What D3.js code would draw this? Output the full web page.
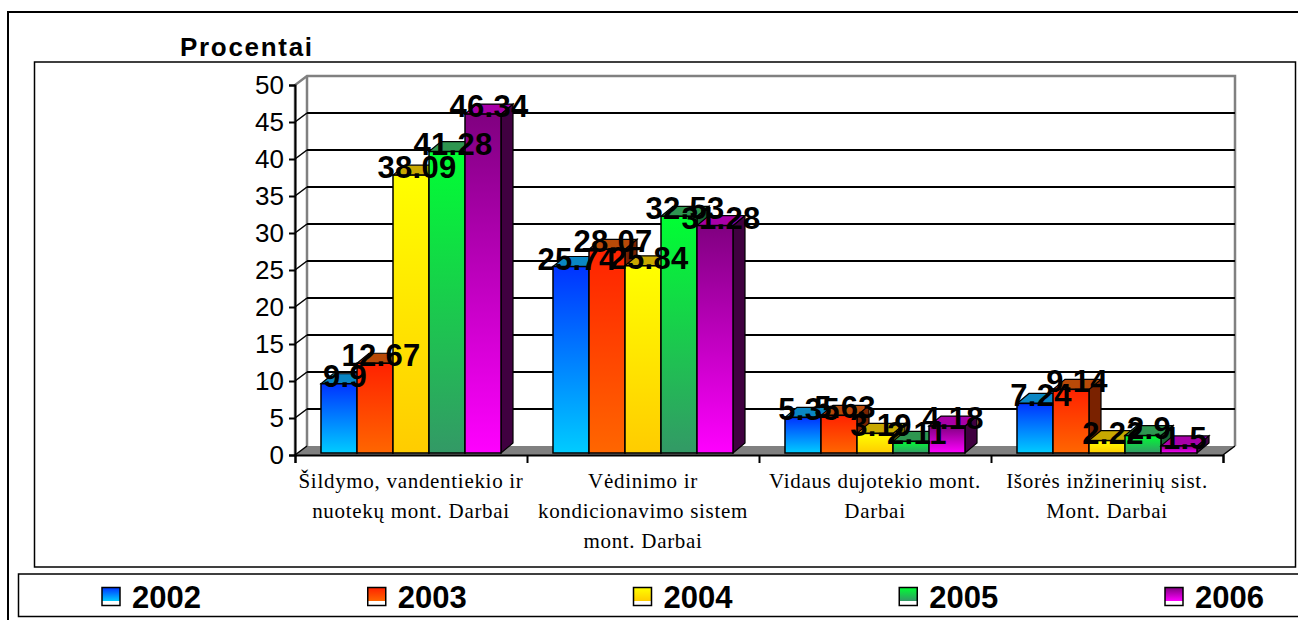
<!DOCTYPE html>
<html>
<head>
<meta charset="utf-8">
<script src="https://cdn.jsdelivr.net/npm/d3@7"></script>
<style>
    html, body { margin: 0; padding: 0; background: #fff; overflow: hidden; }
    svg { display: block; }
</style>
</head>
<body>
<div id="visualization"></div>
<script>
// chart data
const categories = [
    ["Šildymo, vandentiekio ir", "nuotekų mont. Darbai"],
    ["Vėdinimo ir", "kondicionavimo sistem", "mont. Darbai"],
    ["Vidaus dujotekio mont.", "Darbai"],
    ["Išorės inžinerinių sist.", "Mont. Darbai"]
];
const years = ["2002", "2003", "2004", "2005", "2006"];
const values2002 = [9.9, 25.74, 5.35, 7.24];
const values2003 = [12.67, 28.07, 5.63, 9.14];
const values2004 = [38.09, 25.84, 3.19, 2.22];
const values2005 = [41.28, 32.53, 2.11, 2.9];
const values2006 = [46.34, 31.28, 4.18, 1.5];
const yTicks = [0, 5, 10, 15, 20, 25, 30, 35, 40, 45, 50];

// gradient ends and the two shaded faces of each year's bar
const barColors = [
    { top: "#0033ff", bottom: "#00ccff", cap: "#0a86c4", side: "#002a80" },
    { top: "#ff2200", bottom: "#ff6600", cap: "#b84a08", side: "#7a2200" },
    { top: "#ffff00", bottom: "#ffcc00", cap: "#c8a800", side: "#806600" },
    { top: "#00ff33", bottom: "#339966", cap: "#2e9650", side: "#1a6633" },
    { top: "#800080", bottom: "#ff00ff", cap: "#a800a8", side: "#400040" }
];

const series = [values2002, values2003, values2004, values2005, values2006];

const width = 1298, height = 620;
const depthX = 12, depthY = 9;

const svg = d3.select("#visualization").append("svg")
    .attr("width", width)
    .attr("height", height);

// outer frame, chart box, legend box (the legend box runs off the right edge)
svg.append("path").attr("d", "M8,620V12H1298").attr("fill", "none").attr("stroke", "#000").attr("stroke-width", 2);
svg.append("rect").attr("x", 34.5).attr("y", 62).attr("width", 1261).attr("height", 505)
    .attr("fill", "#fff").attr("stroke", "#000").attr("stroke-width", 1.5);
svg.append("rect").attr("x", 18.5).attr("y", 574).attr("width", 1290).attr("height", 42.5)
    .attr("fill", "#fff").attr("stroke", "#000").attr("stroke-width", 1.5);

svg.append("text")
    .attr("x", 180).attr("y", 56)
    .attr("font-family", "Liberation Sans").attr("font-weight", "bold").attr("font-size", 26)
    .attr("letter-spacing", 1.7)
    .text("Procentai");

// scales
const x0 = d3.scaleBand().domain(d3.range(categories.length)).range([295, 1223]);
const xBar = d3.scaleBand().domain(d3.range(years.length)).range([0, x0.bandwidth()]).paddingOuter(0.722).paddingInner(0);
const y = d3.scaleLinear().domain([0, 50]).range([455, 85]);
// the bars stand a little in front of the axis plane
const yBar = d3.scaleLinear().domain([0, 50]).range([457, 87]);
const barBase = 453;

// gradients
const defs = svg.append("defs");
barColors.forEach((c, i) => {
    const g = defs.append("linearGradient").attr("id", "bar" + i)
        .attr("x1", "0%").attr("y1", "0%").attr("x2", "0%").attr("y2", "100%");
    g.append("stop").attr("offset", 0).attr("stop-color", c.top);
    g.append("stop").attr("offset", 1).attr("stop-color", c.bottom);

    // legend keys fade out to a white strip along the bottom
    const k = defs.append("linearGradient").attr("id", "key" + i)
        .attr("x1", "0%").attr("y1", "0%").attr("x2", "0%").attr("y2", "100%");
    k.append("stop").attr("offset", 0).attr("stop-color", c.top);
    k.append("stop").attr("offset", 0.75).attr("stop-color", c.bottom);
    k.append("stop").attr("offset", 0.75).attr("stop-color", "#fff");
    k.append("stop").attr("offset", 1).attr("stop-color", "#fff");
});

// walls and floor
const xLeft = x0.range()[0], xRight = x0.range()[1];
const floorY = y(0), topY = y(50);
svg.append("path")
    .attr("d", `M${xLeft},${floorY}L${xLeft + depthX},${floorY - depthY}H${xRight + depthX}L${xRight},${floorY}Z`)
    .attr("fill", "#808080");
svg.append("path")
    .attr("d", `M${xLeft},${floorY}V${topY}L${xLeft + depthX},${topY - depthY}H${xRight + depthX}V${floorY - depthY}`)
    .attr("fill", "none").attr("stroke", "#808080").attr("stroke-width", 2.5);
svg.append("path")
    .attr("d", `M${xLeft + depthX},${topY - depthY}V${floorY - depthY}`)
    .attr("stroke", "#808080").attr("stroke-width", 2.5);

// gridlines on the back wall and their diagonals on the side wall
svg.append("g").selectAll("line")
    .data(yTicks.filter(d => d > 0 && d < 50))
    .enter()
    .append("line")
    .attr("x1", xLeft + depthX).attr("x2", xRight + depthX)
    .attr("y1", d => y(d) - depthY).attr("y2", d => y(d) - depthY)
    .attr("stroke", "#000").attr("stroke-width", 1.8);
svg.append("g").selectAll("line")
    .data(yTicks.filter(d => d < 50))
    .enter()
    .append("line")
    .attr("x1", xLeft).attr("x2", xLeft + depthX)
    .attr("y1", d => y(d)).attr("y2", d => y(d) - depthY)
    .attr("stroke", "#000").attr("stroke-width", 1.5);
svg.append("line")
    .attr("x1", xRight).attr("x2", xRight + depthX)
    .attr("y1", floorY).attr("y2", floorY - depthY)
    .attr("stroke", "#000").attr("stroke-width", 1.5);

// bars: side and cap first, then the gradient front
const barDepthX = 12, barDepthY = 10;
const groups = svg.append("g").selectAll("g")
    .data(categories)
    .enter()
    .append("g")
    .attr("transform", (d, i) => `translate(${x0(i)},0)`);

years.forEach((year, s) => {
    const bars = groups.append("g").datum((d, i) => series[s][i]);
    const bx = xBar(s), bw = xBar.bandwidth();
    bars.append("path")
        .attr("d", v => `M${bx + bw},${yBar(v)}l${barDepthX},${-barDepthY}V${barBase - barDepthY}l${-barDepthX},${barDepthY}Z`)
        .attr("fill", barColors[s].side).attr("stroke", "#000").attr("stroke-width", 1.2);
    bars.append("path")
        .attr("d", v => `M${bx},${yBar(v)}l${barDepthX},${-barDepthY}h${bw}l${-barDepthX},${barDepthY}Z`)
        .attr("fill", barColors[s].cap).attr("stroke", "#000").attr("stroke-width", 1.2);
    bars.append("rect")
        .attr("x", bx).attr("width", bw)
        .attr("y", v => yBar(v)).attr("height", v => barBase - yBar(v))
        .attr("fill", `url(#bar${s})`).attr("stroke", "#000").attr("stroke-width", 1.5);
});

// axes
const yAxis = d3.axisLeft(y).tickValues(yTicks).tickSize(6).tickPadding(5);
const yG = svg.append("g").attr("transform", `translate(${xLeft},0)`).call(yAxis);
yG.select(".domain").attr("stroke-width", 2);
yG.selectAll("line").attr("stroke-width", 2);
yG.selectAll("text")
    .attr("font-family", "Liberation Sans").attr("font-size", 26).attr("fill", "#000");

const xAxisScale = d3.scaleLinear().domain([0, categories.length]).range([xLeft, xRight]);
const xAxis = d3.axisBottom(xAxisScale).tickValues(d3.range(categories.length + 1)).tickSize(8).tickFormat("");
const xG = svg.append("g").attr("transform", `translate(0,${floorY})`).call(xAxis);
xG.select(".domain").attr("stroke-width", 2);
xG.selectAll("line").attr("stroke-width", 2);

// category labels
groups.each(function(lines) {
    d3.select(this).append("text")
        .attr("text-anchor", "middle")
        .attr("font-family", "Liberation Serif").attr("font-size", 21).attr("letter-spacing", 0.7)
        .selectAll("tspan")
        .data(lines)
        .enter()
        .append("tspan")
        .attr("x", x0.bandwidth() / 2)
        .attr("y", (d, i) => 488 + i * 30)
        .text(d => d);
});

// value labels sit above every bar
years.forEach((year, s) => {
    groups.append("text")
        .datum((d, i) => series[s][i])
        .attr("x", xBar(s) + xBar.bandwidth() / 2 + 6)
        .attr("y", v => yBar(v) + 3)
        .attr("text-anchor", "middle")
        .attr("font-family", "Liberation Sans").attr("font-weight", "bold").attr("font-size", 31)
        .attr("letter-spacing", 0.3)
        .text(v => v);
});

// legend
const legendX = d3.scalePoint().domain(years).range([102, 1165]);
const legend = svg.append("g").selectAll("g")
    .data(years)
    .enter()
    .append("g")
    .attr("transform", d => `translate(${legendX(d)},0)`);
legend.append("rect")
    .attr("y", 587.5).attr("width", 18).attr("height", 18)
    .attr("fill", (d, i) => `url(#key${i})`)
    .attr("stroke", "#000").attr("stroke-width", 1.5);
legend.append("text")
    .attr("x", 30).attr("y", 608)
    .attr("font-family", "Liberation Sans").attr("font-weight", "bold").attr("font-size", 31)
    .text(d => d);
</script>
</body>
</html>
